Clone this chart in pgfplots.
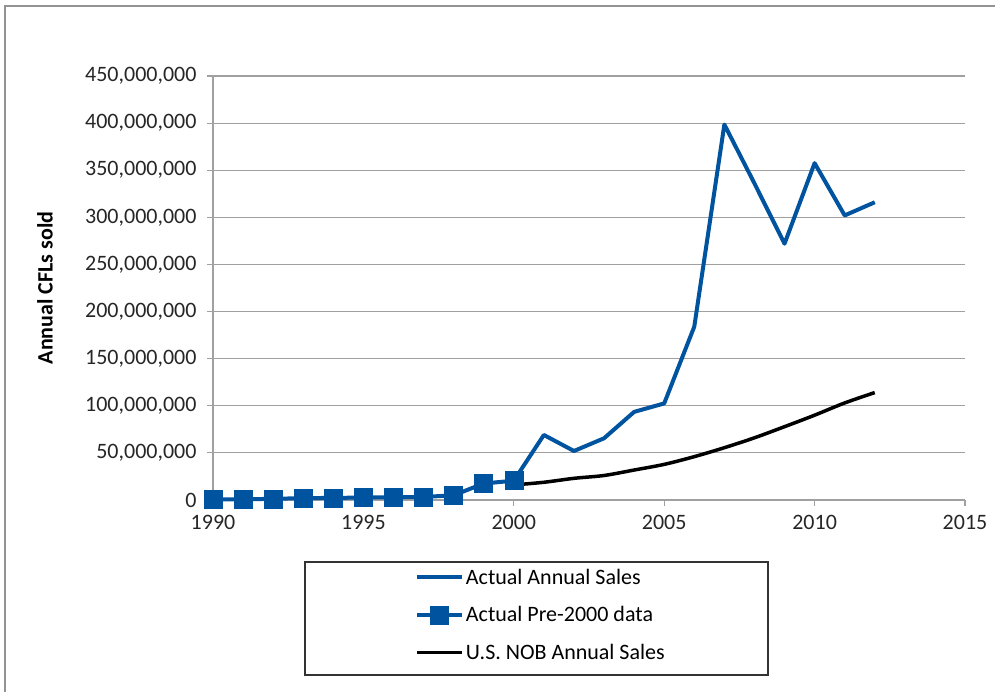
\documentclass[border=0pt]{standalone}
\usepackage{pgfplots}
\pgfplotsset{compat=1.18}
\usepackage{fontspec}
\setmainfont{Carlito}
\definecolor{cflblue}{HTML}{00549F}
\definecolor{gridgray}{HTML}{A0A0A0}
\begin{document}
\begin{tikzpicture}
\useasboundingbox (0pt,0pt) rectangle (995pt,692pt);
\draw[gray!85, line width=1.5pt] (5pt,-20pt) rectangle (1020pt,686pt);
\begin{axis}[
  at={(213pt,192pt)}, anchor=south west,
  scale only axis, width=752pt, height=424pt,
  xmin=1990, xmax=2015, ymin=0, ymax=450,
  xtick={1990,1995,2000,2005,2010,2015},
  xticklabels={1990,1995,2000,2005,2010,2015},
  ytick={0,50,100,150,200,250,300,350,400,450},
  yticklabels={0,{50,000,000},{100,000,000},{150,000,000},{200,000,000},{250,000,000},{300,000,000},{350,000,000},{400,000,000},{450,000,000}},
  axis lines*=left,
  axis line style={gridgray, line width=1.2pt},
  tick align=outside, major tick length=6pt,
  tick style={gridgray, line width=1.2pt},
  ymajorgrids, grid style={gridgray, line width=1.2pt},
  tick label style={font=\fontsize{22}{26}\selectfont, text=black!85},
  yticklabel style={xshift=-7pt},
  xticklabel style={yshift=-6pt},
  ylabel={Annual CFLs sold},
  ylabel style={font=\bfseries\fontsize{22}{26}\selectfont, at={(axis description cs:-0.2234,0.5)}, anchor=center},
  clip=false,
  legend style={at={(axis description cs:0.436,-0.271)}, anchor=center, draw=none, fill=none, font=\fontsize{22}{26}\selectfont, row sep=17pt, inner sep=0pt},
  legend cell align=left,
  legend image code/.code={\draw[mark repeat=2,mark phase=2,#1] plot coordinates {(0pt,0pt) (22.5pt,0pt) (45pt,0pt)};},
]
\addplot[cflblue, line width=4pt, line join=round] coordinates {
(2000,20.5) (2001,69) (2002,52) (2003,65.5) (2004,93.5) (2005,102.5) (2006,184)
(2007,398.5) (2008,336) (2009,272) (2010,357.5) (2011,302) (2012,316)};
\addlegendentry{Actual Annual Sales}
\addplot[cflblue, line width=4pt, mark=square*, mark size=9pt, mark options={solid, fill=cflblue, draw=cflblue, line width=0.5pt}] coordinates {
(1990,0.5) (1991,0.8) (1992,1.2) (1993,2) (1994,2.2) (1995,2.6) (1996,3) (1997,3.2) (1998,5) (1999,17.5) (2000,20.5)};
\addlegendentry{Actual Pre-2000 data}
\addplot[black, line width=3.5pt, smooth] coordinates {
(2000,16) (2001,18.8) (2002,23) (2003,26) (2004,31.8) (2005,37.8) (2006,46)
(2007,55.5) (2008,66) (2009,77.8) (2010,90) (2011,103) (2012,114)};
\addlegendentry{U.S. NOB Annual Sales}
\end{axis}
\draw[black!80, line width=1.2pt] (305pt,17pt) rectangle (768pt,130pt);
\end{tikzpicture}
\end{document}
